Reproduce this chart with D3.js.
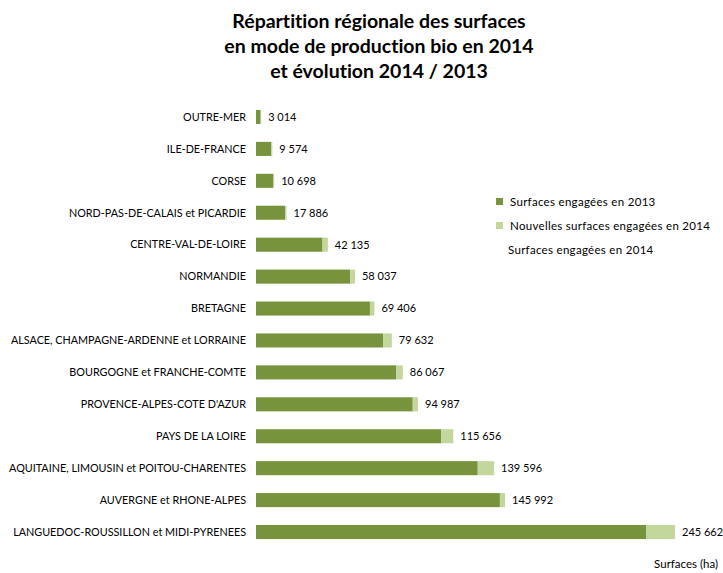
<!DOCTYPE html>
<html>
<head>
<meta charset="utf-8">
<script src="https://cdn.jsdelivr.net/npm/d3@7"></script>
<style>
  html, body { margin: 0; padding: 0; background: #fff; }
  svg { display: block; font-family: Lato, "Open Sans", sans-serif; font-variant-ligatures: none; }
</style>
</head>
<body>
<svg id="chart" width="723" height="573"></svg>
<script>
const regions = [
  "OUTRE-MER",
  "ILE-DE-FRANCE",
  "CORSE",
  "NORD-PAS-DE-CALAIS et PICARDIE",
  "CENTRE-VAL-DE-LOIRE",
  "NORMANDIE",
  "BRETAGNE",
  "ALSACE, CHAMPAGNE-ARDENNE et LORRAINE",
  "BOURGOGNE et FRANCHE-COMTE",
  "PROVENCE-ALPES-COTE D'AZUR",
  "PAYS DE LA LOIRE",
  "AQUITAINE, LIMOUSIN et POITOU-CHARENTES",
  "AUVERGNE et RHONE-ALPES",
  "LANGUEDOC-ROUSSILLON et MIDI-PYRENEES"
];
// Surfaces engagées en 2014 (total, labelled)
const surfaces2014 = [3014, 9574, 10698, 17886, 42135, 58037, 69406, 79632, 86067, 94987, 115656, 139596, 145992, 245662];
// Surfaces engagées en 2013
const surfaces2013 = [2700, 9000, 10000, 17100, 39000, 55300, 66800, 74500, 82300, 91900, 108500, 130000, 143000, 228700];
const titleLines = [
  "Répartition régionale des surfaces",
  "en mode de production bio en 2014",
  "et évolution 2014 / 2013"
];
const legendLabels = ["Surfaces engagées en 2013", "Nouvelles surfaces engagées en 2014", "Surfaces engagées en 2014"];
const axisTitle = "Surfaces (ha)";

const colDark = "#77933C", colLight = "#C3D69B";

const svg = d3.select("#chart");

const data = regions.map((r, i) => ({
  region: r,
  v2013: surfaces2013[i],
  vNew: surfaces2014[i] - surfaces2013[i],
  total: surfaces2014[i]
}));

const x = d3.scaleLinear().domain([0, 245662]).range([256, 675]);
const y = d3.scaleBand().domain(regions).range([101, 548]).paddingInner(0.56).paddingOuter(0.28);

const fmt = v => d3.format(",")(v).replace(/,/g, " ");

// title
svg.append("g").selectAll("text").data(titleLines).join("text")
  .attr("x", 379).attr("y", (d, i) => 28 + i * 25)
  .attr("text-anchor", "middle")
  .attr("font-size", 19.5).attr("font-weight", "bold").attr("fill", "#000")
  .text(d => d);

// category labels
svg.append("g").selectAll("text").data(data).join("text")
  .attr("x", 246).attr("y", d => y(d.region) + y.bandwidth() / 2)
  .attr("dy", "0.35em").attr("text-anchor", "end")
  .attr("font-size", 10.8).attr("fill", "#000")
  .text(d => d.region);

// bars 2013
svg.append("g").selectAll("rect").data(data).join("rect")
  .attr("x", x(0)).attr("y", d => y(d.region))
  .attr("width", d => x(d.v2013) - x(0)).attr("height", y.bandwidth())
  .attr("fill", colDark);

// new 2014
svg.append("g").selectAll("rect").data(data).join("rect")
  .attr("x", d => x(d.v2013)).attr("y", d => y(d.region))
  .attr("width", d => x(d.v2013 + d.vNew) - x(d.v2013)).attr("height", y.bandwidth())
  .attr("fill", colLight);

// value labels
svg.append("g").selectAll("text").data(data).join("text")
  .attr("x", d => x(d.total) + 7).attr("y", d => y(d.region) + y.bandwidth() / 2)
  .attr("dy", "0.35em")
  .attr("font-size", 11).attr("fill", "#000")
  .text(d => fmt(d.total));

// legend
const leg = svg.append("g");
[colDark, colLight].forEach((c, i) => {
  leg.append("rect").attr("x", 496).attr("y", 198 + i * 24).attr("width", 7).attr("height", 7).attr("fill", c);
});
leg.selectAll("text").data(legendLabels).join("text")
  .attr("x", (d, i) => i < 2 ? 510 : 508)
  .attr("y", (d, i) => 202 + i * 24).attr("dy", "0.35em")
  .attr("font-size", 11.5).attr("letter-spacing", 0.3).attr("fill", "#000")
  .text(d => d);

// axis title
svg.append("text").attr("x", 718).attr("y", 568).attr("text-anchor", "end")
  .attr("font-size", 11.5).attr("fill", "#000").text(axisTitle);
</script>
</body>
</html>
